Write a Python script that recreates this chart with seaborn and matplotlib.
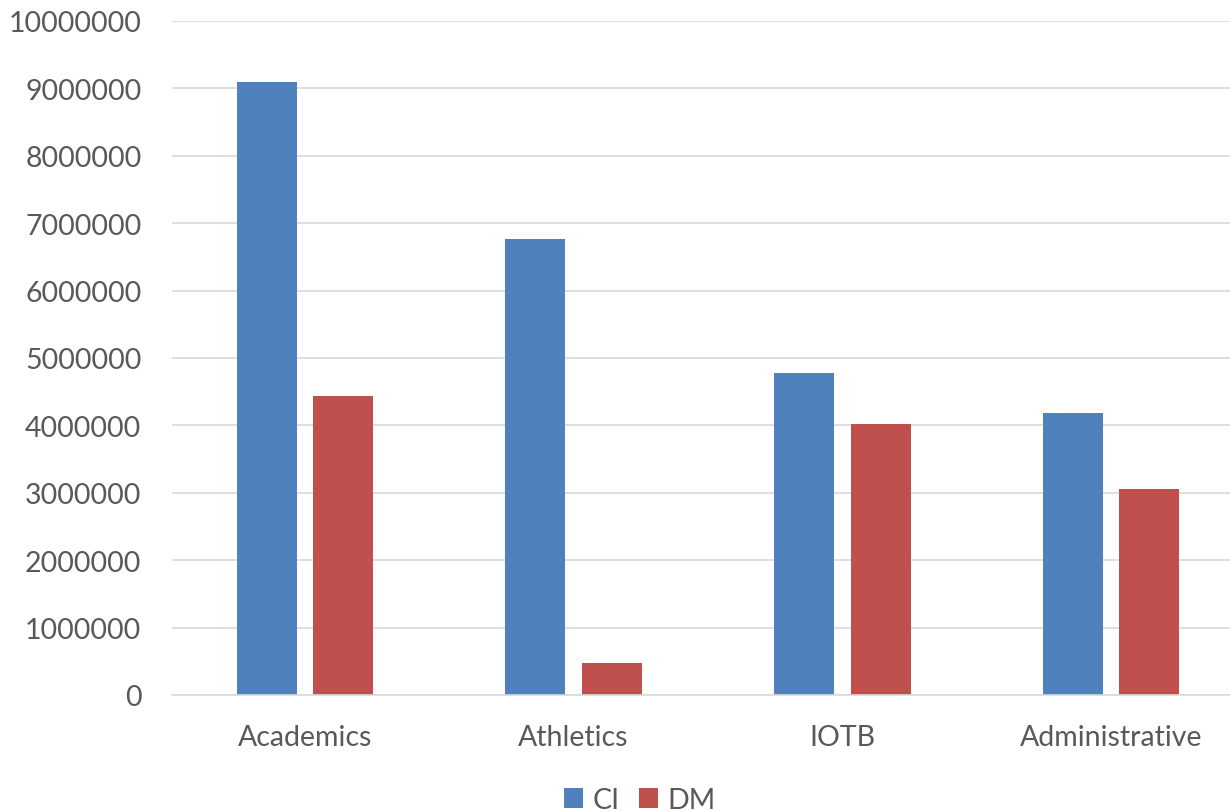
import numpy as np
import matplotlib
matplotlib.use("Agg")
import matplotlib.pyplot as plt
import seaborn as sns
import pandas as pd

categories = ["Academics", "Athletics", "IOTB", "Administrative"]
series = ["CI", "DM"]
ci_values = [9100000, 6770000, 4780000, 4190000]
dm_values = [4440000, 475000, 4025000, 3060000]
yticks = list(range(0, 10000001, 1000000))

df = pd.DataFrame({
    "category": categories * 2,
    "series": ["CI"] * 4 + ["DM"] * 4,
    "value": ci_values + dm_values,
})

sns.set_style("white")
plt.rcParams["font.family"] = ["Lato", "DejaVu Sans"]
text_col = "#595959"
grid_col = "#D9D9D9"

fig = plt.figure(figsize=(12.3, 8.12), dpi=100)
ax = fig.add_axes([172 / 1230, 116 / 812, 1058 / 1230, 674 / 812])

sns.barplot(data=df, x="category", y="value", hue="series",
            palette=["#4F81BD", "#C0504D"], width=0.572, gap=0.22,
            saturation=1, ax=ax, linewidth=0)

ax.set_xlim(-0.495, 3.443)
ax.set_ylim(0, 10000000)
ax.set_yticks(yticks)
ax.set_yticklabels([str(v) for v in yticks])
ax.yaxis.grid(True, color=grid_col, linewidth=1.2)
ax.set_axisbelow(True)
for s in ["top", "right", "left"]:
    ax.spines[s].set_visible(False)
ax.spines["bottom"].set_color(grid_col)
ax.spines["bottom"].set_linewidth(1.2)
ax.tick_params(axis="both", length=0, labelsize=20.5, colors=text_col)
ax.tick_params(axis="y", pad=22)
ax.tick_params(axis="x", pad=21)
ax.set_xlabel("")
ax.set_ylabel("")

handles, labels = ax.get_legend_handles_labels()
ax.legend(handles, labels, loc="center", bbox_to_anchor=(640 / 1230, 11 / 812),
          bbox_transform=fig.transFigure, ncol=2, frameon=False, fontsize=20.5,
          handlelength=0.65, handleheight=0.65, handletextpad=0.33,
          columnspacing=0.7, labelcolor=text_col)

fig.savefig("out.png", dpi=100)
